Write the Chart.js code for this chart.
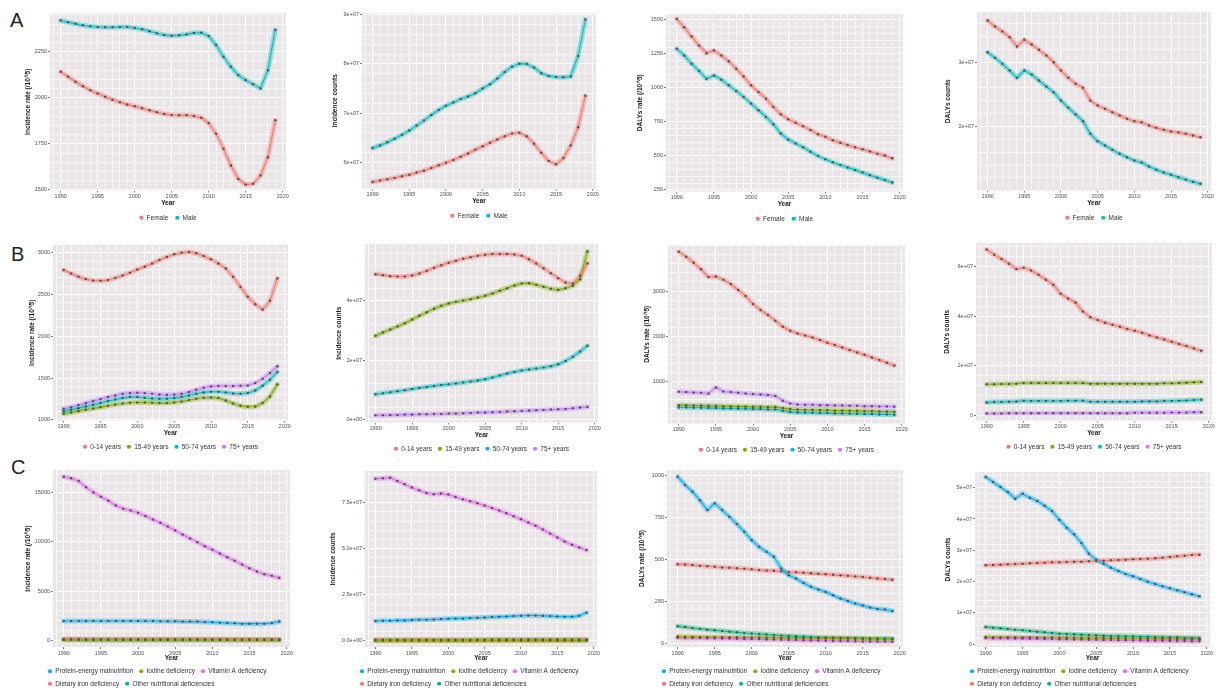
<!DOCTYPE html>
<html lang="en">
<head>
<meta charset="UTF-8">
<title>Nutritional deficiencies, 1990-2019</title>
<script src="https://cdn.jsdelivr.net/npm/chart.js@4"></script>
<style>
  html, body { margin: 0; padding: 0; background: #fff; overflow: hidden; }
  #fig { position: relative; width: 1218px; height: 695px; }
  #fig canvas { position: absolute; }
  .tag { position: absolute; font: 20px "Liberation Sans", Arial, sans-serif; line-height: 1; color: #222; }
</style>
</head>
<body>
<div id="fig">
  <div class="tag" style="left:10px;top:10px">A</div>
  <div class="tag" style="left:11px;top:244px">B</div>
  <div class="tag" style="left:11px;top:457px">C</div>
</div>
<script>
// ---- categories ----
const years = [1990,1991,1992,1993,1994,1995,1996,1997,1998,1999,2000,2001,2002,2003,2004,2005,2006,2007,2008,2009,2010,2011,2012,2013,2014,2015,2016,2017,2018,2019];
const xTickLabels = ['1990','1995','2000','2005','2010','2015','2020'];
const sexNames = ['Female', 'Male'];
const ageNames = ['0-14 years', '15-49 years', '50-74 years', '75+ years'];
const causeNames = ['Protein-energy malnutrition', 'Iodine deficiency', 'Vitamin A deficiency', 'Dietary iron deficiency', 'Other nutritional deficiencies'];

// ---- row A: by sex ----
const a1Female = [2141,2114,2087,2063,2041,2023,2005,1990,1976,1963,1954,1943,1932,1921,1912,1907,1905,1905,1901,1892,1863,1805,1724,1633,1560,1529,1533,1578,1678,1878];
const a1Male = [2419,2410,2401,2393,2388,2384,2383,2383,2384,2384,2379,2372,2361,2350,2341,2337,2339,2344,2352,2353,2335,2286,2223,2168,2123,2096,2074,2050,2150,2368];
const a2Female = [55.95e6,56.22e6,56.49e6,56.76e6,57.09e6,57.43e6,57.84e6,58.24e6,58.78e6,59.32e6,59.86e6,60.41e6,61.08e6,61.76e6,62.5e6,63.24e6,63.92e6,64.59e6,65.27e6,65.81e6,65.95e6,65.27e6,63.72e6,61.89e6,60.2e6,59.53e6,60.81e6,63.38e6,67.09e6,73.51e6];
const a2Male = [62.84e6,63.38e6,64.05e6,64.73e6,65.54e6,66.42e6,67.43e6,68.45e6,69.59e6,70.61e6,71.49e6,72.16e6,72.84e6,73.38e6,74.05e6,75.0e6,75.88e6,77.03e6,78.38e6,79.46e6,80.07e6,80.0e6,79.26e6,78.11e6,77.57e6,77.36e6,77.3e6,77.43e6,81.62e6,89.05e6];
const a3Female = [1507,1446,1378,1312,1256,1275,1239,1197,1141,1085,1019,970,921,860,807,770,743,719,690,660,641,616,597,580,563,548,533,516,502,482];
const a3Male = [1288,1239,1178,1124,1068,1092,1061,1019,978,934,885,836,787,733,665,621,592,563,531,500,475,453,433,414,397,377,358,340,323,304];
const a4Female = [36.48e6,35.54e6,34.77e6,33.89e6,32.44e6,33.47e6,32.75e6,31.92e6,31.04e6,30.0e6,28.7e6,27.56e6,26.63e6,26.01e6,24.04e6,23.26e6,22.75e6,22.23e6,21.71e6,21.19e6,20.83e6,20.67e6,20.16e6,19.79e6,19.48e6,19.22e6,19.07e6,18.86e6,18.6e6,18.34e6];
const a4Male = [31.55e6,30.67e6,29.74e6,28.7e6,27.56e6,28.7e6,28.08e6,27.15e6,26.22e6,25.34e6,24.04e6,22.9e6,21.87e6,20.83e6,18.86e6,17.72e6,17.05e6,16.37e6,15.75e6,15.23e6,14.72e6,14.4e6,13.78e6,13.26e6,12.85e6,12.49e6,12.12e6,11.76e6,11.4e6,11.09e6];

// ---- row B: by age ----
const b1Age0 = [2792,2752,2712,2684,2668,2664,2672,2696,2728,2760,2800,2832,2872,2912,2948,2980,3000,3008,2992,2960,2920,2872,2812,2712,2592,2472,2384,2320,2424,2692];
const b1Age15 = [1072,1088,1104,1120,1136,1152,1168,1184,1196,1204,1208,1208,1204,1200,1200,1208,1220,1236,1252,1264,1268,1260,1232,1196,1168,1156,1160,1200,1280,1424];
const b1Age50 = [1104,1120,1140,1160,1180,1200,1224,1244,1260,1272,1272,1264,1256,1252,1252,1260,1272,1292,1312,1328,1336,1336,1328,1316,1312,1320,1352,1408,1480,1572];
const b1Age75 = [1132,1152,1176,1200,1224,1248,1272,1292,1312,1320,1324,1320,1312,1304,1300,1304,1312,1332,1360,1384,1400,1404,1404,1404,1408,1412,1440,1492,1560,1640];
const b2Age0 = [49.02e6,48.68e6,48.34e6,48.23e6,48.23e6,48.57e6,49.24e6,50.14e6,51.16e6,52.06e6,52.85e6,53.52e6,54.2e6,54.76e6,55.21e6,55.55e6,55.78e6,55.78e6,55.78e6,55.66e6,55.21e6,54.09e6,52.62e6,51.04e6,49.35e6,47.66e6,46.2e6,45.86e6,48.45e6,52.62e6];
const b2Age15 = [28.17e6,29.3e6,30.31e6,31.32e6,32.45e6,33.69e6,34.93e6,36.17e6,37.3e6,38.31e6,39.1e6,39.66e6,40.11e6,40.56e6,41.13e6,41.69e6,42.48e6,43.38e6,44.28e6,45.18e6,45.86e6,45.97e6,45.41e6,44.73e6,44.06e6,43.72e6,44.28e6,45.07e6,47.33e6,56.68e6];
const b2Age50 = [8.45e6,8.78e6,9.12e6,9.46e6,9.8e6,10.25e6,10.59e6,10.93e6,11.26e6,11.6e6,11.83e6,12.05e6,12.39e6,12.73e6,13.06e6,13.51e6,14.08e6,14.75e6,15.43e6,15.99e6,16.44e6,16.78e6,17.12e6,17.46e6,17.91e6,18.58e6,19.71e6,21.07e6,22.87e6,24.79e6];
const b2Age75 = [1.34e6,1.34e6,1.46e6,1.46e6,1.57e6,1.57e6,1.68e6,1.68e6,1.79e6,1.79e6,1.91e6,1.91e6,2.02e6,2.13e6,2.25e6,2.25e6,2.36e6,2.47e6,2.58e6,2.7e6,2.81e6,2.92e6,3.03e6,3.15e6,3.26e6,3.37e6,3.49e6,3.71e6,3.94e6,4.16e6];
const b3Age0 = [3868,3757,3625,3478,3310,3320,3250,3154,3022,2890,2713,2581,2471,2346,2213,2125,2066,2022,1978,1919,1860,1809,1757,1699,1647,1596,1537,1478,1419,1360];
const b3Age15 = [485,485,478,478,471,471,463,463,456,456,449,449,441,441,419,397,390,382,382,375,375,368,368,360,360,353,353,346,346,338];
const b3Age50 = [434,434,426,426,419,419,412,412,404,404,397,397,390,390,360,331,324,316,316,309,309,301,301,294,294,287,287,279,279,272];
const b3Age75 = [779,772,765,757,743,875,787,772,757,743,728,721,706,684,581,522,500,493,493,485,485,478,478,471,471,463,463,456,456,448];
const b4Age0 = [66.75e6,64.72e6,62.97e6,61.08e6,58.92e6,59.46e6,58.38e6,56.63e6,54.6e6,52.58e6,48.94e6,47.05e6,45.43e6,41.79e6,39.5e6,38.42e6,37.34e6,36.53e6,35.72e6,34.77e6,34.1e6,33.29e6,32.21e6,31.4e6,30.59e6,29.65e6,28.7e6,27.89e6,26.95e6,26.0e6];
const b4Age15 = [12.52e6,12.52e6,12.65e6,12.65e6,12.79e6,13.05e6,13.05e6,13.05e6,13.05e6,13.05e6,13.05e6,13.05e6,13.05e6,13.05e6,12.79e6,12.79e6,12.79e6,12.79e6,12.79e6,12.79e6,12.79e6,12.79e6,12.79e6,12.79e6,12.92e6,12.92e6,13.05e6,13.19e6,13.32e6,13.46e6];
const b4Age50 = [5.23e6,5.37e6,5.37e6,5.5e6,5.64e6,5.91e6,5.77e6,5.77e6,5.77e6,5.77e6,5.77e6,5.91e6,5.91e6,5.91e6,5.5e6,5.5e6,5.5e6,5.5e6,5.5e6,5.5e6,5.5e6,5.64e6,5.64e6,5.64e6,5.77e6,5.77e6,5.91e6,6.04e6,6.17e6,6.31e6];
const b4Age75 = [0.78e6,0.78e6,0.78e6,0.91e6,0.91e6,0.91e6,0.91e6,0.91e6,0.91e6,0.91e6,0.91e6,0.91e6,0.91e6,0.91e6,0.91e6,0.91e6,0.91e6,0.91e6,0.91e6,0.91e6,1.05e6,1.05e6,1.05e6,1.05e6,1.05e6,1.18e6,1.18e6,1.18e6,1.32e6,1.32e6];

// ---- row C: by cause ----
const c1PEM = [1967,1967,1967,1967,1967,1967,1967,1967,1967,1967,1967,1967,1967,1933,1933,1933,1899,1899,1899,1865,1831,1797,1763,1729,1695,1695,1695,1695,1763,1899];
const c1Iodine = [46,45,45,44,43,42,42,41,40,40,39,38,38,37,37,36,36,35,35,34,34,33,33,33,32,32,32,31,31,31];
const c1VitA = [16629,16459,16188,15543,15034,14593,14185,13710,13371,13201,12964,12624,12285,11945,11572,11165,10758,10350,9977,9570,9196,8823,8450,8077,7703,7330,6990,6719,6549,6345];
const c1Iron = [118,116,115,113,112,110,109,108,106,105,104,103,102,101,100,99,98,97,97,96,95,95,94,94,93,93,92,92,92,91];
const c1Other = [72,71,70,69,68,67,66,66,65,64,63,62,61,61,60,59,58,58,57,56,56,55,55,54,54,53,53,52,52,52];
const c2PEM = [10.78e6,10.96e6,10.96e6,11.14e6,11.14e6,11.32e6,11.5e6,11.5e6,11.68e6,11.86e6,12.04e6,12.22e6,12.22e6,12.4e6,12.58e6,12.76e6,12.94e6,13.12e6,13.3e6,13.48e6,13.66e6,13.83e6,13.83e6,13.66e6,13.48e6,13.3e6,13.12e6,13.12e6,13.66e6,15.27e6];
const c2Iodine = [0.26e6,0.26e6,0.26e6,0.25e6,0.25e6,0.25e6,0.25e6,0.24e6,0.24e6,0.24e6,0.24e6,0.23e6,0.23e6,0.23e6,0.23e6,0.23e6,0.22e6,0.22e6,0.22e6,0.22e6,0.22e6,0.21e6,0.21e6,0.21e6,0.21e6,0.21e6,0.21e6,0.2e6,0.2e6,0.2e6];
const c2VitA = [87.95e6,88.13e6,88.49e6,86.69e6,84.89e6,83.1e6,81.66e6,80.22e6,79.5e6,79.86e6,79.32e6,78.06e6,76.8e6,75.72e6,74.64e6,73.38e6,72.12e6,70.68e6,69.24e6,67.62e6,66.0e6,64.2e6,62.41e6,60.43e6,58.27e6,56.11e6,53.95e6,52.15e6,50.71e6,49.27e6];
const c2Iron = [0.61e6,0.62e6,0.62e6,0.63e6,0.64e6,0.65e6,0.65e6,0.66e6,0.67e6,0.68e6,0.69e6,0.69e6,0.7e6,0.71e6,0.72e6,0.73e6,0.74e6,0.74e6,0.75e6,0.76e6,0.77e6,0.78e6,0.78e6,0.79e6,0.8e6,0.81e6,0.82e6,0.82e6,0.83e6,0.84e6];
const c2Other = [0.42e6,0.42e6,0.43e6,0.43e6,0.43e6,0.44e6,0.44e6,0.44e6,0.45e6,0.45e6,0.45e6,0.46e6,0.46e6,0.46e6,0.47e6,0.47e6,0.47e6,0.48e6,0.48e6,0.48e6,0.49e6,0.49e6,0.49e6,0.5e6,0.5e6,0.5e6,0.51e6,0.51e6,0.51e6,0.52e6];
const c3PEM = [990,941,901,851,792,832,792,752,709,663,614,574,545,515,446,406,386,360,337,321,307,287,267,253,238,226,214,206,202,194];
const c3Iodine = [42,41,41,40,40,39,39,38,38,37,36,36,35,35,34,34,33,33,32,32,31,31,30,30,29,29,28,28,27,27];
const c3VitA = [35,34,34,33,32,32,31,30,29,28,27,26,25,24,23,22,21,20,19,18,17,16,15,15,14,13,13,12,12,11];
const c3Iron = [471,469,466,462,459,456,452,450,447,444,441,437,434,432,429,425,423,420,417,414,411,408,405,402,398,395,391,387,383,379];
const c3Other = [103,98,93,88,83,79,75,71,67,63,60,57,54,51,48,46,44,42,40,38,37,36,35,34,33,32,31,30,30,29];
const c4PEM = [53.4e6,51.81e6,50.21e6,48.62e6,46.49e6,48.09e6,46.81e6,45.74e6,44.25e6,42.55e6,39.79e6,37.23e6,35.1e6,32.34e6,28.93e6,27.02e6,25.74e6,24.46e6,23.4e6,22.44e6,21.7e6,20.85e6,20.0e6,19.25e6,18.51e6,17.87e6,17.23e6,16.59e6,15.96e6,15.32e6];
const c4Iodine = [2.3e6,2.28e6,2.26e6,2.25e6,2.23e6,2.21e6,2.2e6,2.18e6,2.16e6,2.14e6,2.12e6,2.1e6,2.08e6,2.05e6,2.02e6,1.99e6,1.96e6,1.93e6,1.9e6,1.87e6,1.84e6,1.81e6,1.78e6,1.75e6,1.72e6,1.7e6,1.67e6,1.64e6,1.62e6,1.6e6];
const c4VitA = [2.0e6,1.97e6,1.94e6,1.91e6,1.88e6,1.84e6,1.8e6,1.76e6,1.72e6,1.68e6,1.64e6,1.6e6,1.56e6,1.52e6,1.48e6,1.44e6,1.4e6,1.36e6,1.32e6,1.28e6,1.24e6,1.2e6,1.17e6,1.14e6,1.11e6,1.08e6,1.05e6,1.03e6,1.01e6,1.0e6];
const c4Iron = [25.21e6,25.32e6,25.42e6,25.53e6,25.64e6,25.74e6,25.85e6,25.95e6,26.06e6,26.17e6,26.17e6,26.27e6,26.38e6,26.38e6,26.49e6,26.59e6,26.7e6,26.8e6,26.91e6,27.02e6,27.12e6,27.23e6,27.34e6,27.44e6,27.66e6,27.87e6,28.08e6,28.29e6,28.51e6,28.61e6];
const c4Other = [5.52e6,5.31e6,5.1e6,4.89e6,4.67e6,4.46e6,4.25e6,4.04e6,3.82e6,3.61e6,3.4e6,3.29e6,3.19e6,3.08e6,2.97e6,2.87e6,2.76e6,2.65e6,2.65e6,2.55e6,2.55e6,2.44e6,2.44e6,2.33e6,2.33e6,2.23e6,2.23e6,2.12e6,2.12e6,2.01e6];

// ---- y tick values and labels ----
const a1Ticks = [1500, 1750, 2000, 2250];        const a1TickLabels = ['1500', '1750', '2000', '2250'];
const a2Ticks = [6e7, 7e7, 8e7, 9e7];            const a2TickLabels = ['6e+07', '7e+07', '8e+07', '9e+07'];
const a3Ticks = [250, 500, 750, 1000, 1250, 1500]; const a3TickLabels = ['250', '500', '750', '1000', '1250', '1500'];
const a4Ticks = [2e7, 3e7];                      const a4TickLabels = ['2e+07', '3e+07'];
const b1Ticks = [1000, 1500, 2000, 2500, 3000];  const b1TickLabels = ['1000', '1500', '2000', '2500', '3000'];
const b2Ticks = [0, 2e7, 4e7];                   const b2TickLabels = ['0e+00', '2e+07', '4e+07'];
const b3Ticks = [1000, 2000, 3000];              const b3TickLabels = ['1000', '2000', '3000'];
const b4Ticks = [0, 2e7, 4e7, 6e7];              const b4TickLabels = ['0', '2e+07', '4e+07', '6e+07'];
const c1Ticks = [0, 5000, 10000, 15000];         const c1TickLabels = ['0', '5000', '10000', '15000'];
const c2Ticks = [0, 2.5e7, 5e7, 7.5e7];          const c2TickLabels = ['0.0e+00', '2.5e+07', '5.0e+07', '7.5e+07'];
const c3Ticks = [0, 250, 500, 750, 1000];        const c3TickLabels = ['0', '250', '500', '750', '1000'];
const c4Ticks = [0, 1e7, 2e7, 3e7, 4e7, 5e7];    const c4TickLabels = ['0', '1e+07', '2e+07', '3e+07', '4e+07', '5e+07'];

// ---- styles ----
const sexColors = ['#F8766D', '#00BFC4'];
const ageColors = ['#F8766D', '#7CAE00', '#00BFC4', '#C77CFF'];
const causeColors = ['#00B0F6', '#A3A500', '#E76BF3', '#F8766D', '#00BF7D'];
const RATE = 'Incidence rate (/10^5)', COUNT = 'Incidence counts', DRATE = 'DALYs rate (/10^5)', DCOUNT = 'DALYs counts';
const X_MIN = 1988.55, X_MAX = 2020.45;

// plot box in page pixels: [left, right, top, bottom]; w = y-axis strip width
const panels = [
  { row: 'A', box: [50, 286, 13, 190], w: 26, title: RATE,   range: [1497, 2460],     ticks: a1Ticks, labels: a1TickLabels, names: sexNames, colors: sexColors, series: [a1Female, a1Male] },
  { row: 'A', box: [362, 596, 13, 188], w: 31, title: COUNT, range: [54.6e6, 90.4e6], ticks: a2Ticks, labels: a2TickLabels, names: sexNames, colors: sexColors, series: [a2Female, a2Male] },
  { row: 'A', box: [666, 903, 14, 191], w: 30, title: DRATE, range: [238, 1544],      ticks: a3Ticks, labels: a3TickLabels, names: sexNames, colors: sexColors, series: [a3Female, a3Male] },
  { row: 'A', box: [977, 1211, 12, 190], w: 33, title: DCOUNT, range: [10.05e6, 37.8e6], ticks: a4Ticks, labels: a4TickLabels, names: sexNames, colors: sexColors, series: [a4Female, a4Male] },
  { row: 'B', box: [53, 288, 245, 420], w: 25, title: RATE,   range: [992, 3092],      ticks: b1Ticks, labels: b1TickLabels, names: ageNames, colors: ageColors, series: [b1Age0, b1Age15, b1Age50, b1Age75] },
  { row: 'B', box: [365, 598, 244, 422], w: 30, title: COUNT, range: [-1.1e6, 59.2e6], ticks: b2Ticks, labels: b2TickLabels, names: ageNames, colors: ageColors, series: [b2Age0, b2Age15, b2Age50, b2Age75] },
  { row: 'B', box: [668, 905, 245, 423], w: 25, title: DRATE, range: [80, 4015],       ticks: b3Ticks, labels: b3TickLabels, names: ageNames, colors: ageColors, series: [b3Age0, b3Age15, b3Age50, b3Age75] },
  { row: 'B', box: [976, 1212, 243, 420], w: 33, title: DCOUNT, range: [-2.05e6, 69.4e6], ticks: b4Ticks, labels: b4TickLabels, names: ageNames, colors: ageColors, series: [b4Age0, b4Age15, b4Age50, b4Age75] },
  { row: 'C', box: [53, 290, 470, 647], w: 29, title: RATE,   range: [-680, 17308],    ticks: c1Ticks, labels: c1TickLabels, names: causeNames, colors: causeColors, series: [c1PEM, c1Iodine, c1VitA, c1Iron, c1Other] },
  { row: 'C', box: [365, 597, 471, 647], w: 36, title: COUNT, range: [-3.26e6, 92.1e6], ticks: c2Ticks, labels: c2TickLabels, names: causeNames, colors: causeColors, series: [c2PEM, c2Iodine, c2VitA, c2Iron, c2Other] },
  { row: 'C', box: [667, 903, 470, 647], w: 29, title: DRATE, range: [-20, 1030],      ticks: c3Ticks, labels: c3TickLabels, names: causeNames, colors: causeColors, series: [c3PEM, c3Iodine, c3VitA, c3Iron, c3Other] },
  { row: 'C', box: [975, 1210, 472, 647], w: 31, title: DCOUNT, range: [-0.86e6, 55e6], ticks: c4Ticks, labels: c4TickLabels, names: causeNames, colors: causeColors, series: [c4PEM, c4Iodine, c4VitA, c4Iron, c4Other] }
];

const rowLayout = { A: { hx: 17, lp: 7, rows: 1 }, B: { hx: 17, lp: 6, rows: 1 }, C: { hx: 15, lp: 6, rows: 2 } };
const PAD_TOP = 5, PAD_RIGHT = 6, LEGEND_FONT = 6.5;

Chart.defaults.font.family = '"Liberation Sans", Arial, sans-serif';

function rgba(hex, a) {
  const n = parseInt(hex.slice(1), 16);
  return `rgba(${n >> 16},${(n >> 8) & 255},${n & 255},${a})`;
}

// labelled ticks plus four minor lines between each pair
function yGrid(major, lo, hi) {
  const step = (major[1] - major[0]) / 5;
  const tol = step * 1e-6;
  const k0 = Math.ceil((lo - major[0]) / step - 1e-9);
  const k1 = Math.floor((hi - major[0]) / step + 1e-9);
  const out = [];
  for (let k = k0; k <= k1; k++) {
    const v = major[0] + k * step;
    out.push({ value: v, major: major.some(t => Math.abs(t - v) < tol) });
  }
  return out;
}
function xGrid() {
  const out = [];
  for (let y = Math.ceil(X_MIN); y <= X_MAX; y++) out.push({ value: y, major: xTickLabels.includes(String(y)) });
  return out;
}

const panelBg = {
  id: 'panelBg',
  beforeDraw(c) {
    const a = c.chartArea, ctx = c.ctx;
    ctx.save();
    ctx.fillStyle = '#EAE5E7';
    ctx.fillRect(a.left, a.top, a.right - a.left, a.bottom - a.top);
    ctx.restore();
  }
};

const gridLine = c => (c.tick && c.tick.major ? 1 : 0.6);
const tickMark = c => (c.tick && c.tick.major ? '#555' : 'rgba(0,0,0,0)');

const fig = document.getElementById('fig');

panels.forEach(p => {
  const [left, right, top, bottom] = p.box;
  const lay = rowLayout[p.row];
  const legendH = lay.rows * (LEGEND_FONT + lay.lp) + 10;
  const cv = document.createElement('canvas');
  cv.width = Math.round(p.w + (right - left) + PAD_RIGHT);
  cv.height = Math.round(PAD_TOP + (bottom - top) + lay.hx + legendH);
  cv.style.left = (left - p.w) + 'px';
  cv.style.top = (top - PAD_TOP) + 'px';
  fig.appendChild(cv);

  const datasets = [];
  p.series.forEach((vals, i) => {
    const pts = years.map((yr, j) => ({ x: yr, y: vals[j] }));
    datasets.push({ data: pts, halo: true, borderColor: rgba(p.colors[i], 0.38), borderWidth: 5,
      pointRadius: 0, order: 2, borderCapStyle: 'round', borderJoinStyle: 'round' });
    datasets.push({ label: p.names[i], data: pts, borderColor: p.colors[i], borderWidth: 1.1,
      pointRadius: 1.25, pointBackgroundColor: '#555', pointBorderWidth: 0, order: 1 });
  });

  const yTicks = yGrid(p.ticks, p.range[0], p.range[1]);
  const yLabel = v => {
    const tol = (p.range[1] - p.range[0]) * 1e-6;
    const i = p.ticks.findIndex(t => Math.abs(t - v) < tol);
    return i >= 0 ? p.labels[i] : '';
  };

  const legendPlace = {
    id: 'legendPlace',
    afterLayout(c) {
      const lg = c.legend, a = c.chartArea;
      if (p.row === 'C') { lg.left = a.left - 11; lg.right = a.right + 20; }
      else { lg.left = a.left; lg.right = a.right; }
    }
  };

  new Chart(cv, {
    type: 'line',
    data: { datasets },
    options: {
      responsive: false,
      animation: false,
      devicePixelRatio: 1,
      layout: { padding: { top: PAD_TOP, right: PAD_RIGHT, left: 0, bottom: 0 } },
      plugins: {
        tooltip: { enabled: false },
        legend: {
          position: 'bottom',
          align: p.row === 'C' ? 'start' : 'center',
          labels: {
            usePointStyle: true,
            boxWidth: 4,
            boxHeight: 3,
            padding: lay.lp,
            color: '#333',
            font: { size: LEGEND_FONT },
            generateLabels: c => Chart.defaults.plugins.legend.labels.generateLabels(c)
              .filter(it => !c.data.datasets[it.datasetIndex].halo)
              .map(it => {
                const col = c.data.datasets[it.datasetIndex].borderColor;
                return Object.assign(it, { fillStyle: col, strokeStyle: col, lineWidth: 0, pointStyle: 'circle' });
              })
          }
        }
      },
      scales: {
        x: {
          type: 'linear',
          min: X_MIN,
          max: X_MAX,
          afterBuildTicks: s => { s.ticks = xGrid(); },
          afterFit: s => { s.height = lay.hx; },
          ticks: {
            autoSkip: false, maxRotation: 0, padding: 1,
            font: { size: 5.5 }, color: '#4d4d4d',
            callback: v => (xTickLabels.includes(String(v)) ? String(v) : '')
          },
          grid: { color: '#ffffff', lineWidth: gridLine, tickLength: 2, tickColor: tickMark, tickWidth: 0.8 },
          border: { display: false },
          title: { display: true, text: 'Year', color: '#1a1a1a', font: { size: 6.5, weight: 'bold' }, padding: 0 }
        },
        y: {
          type: 'linear',
          min: p.range[0],
          max: p.range[1],
          afterBuildTicks: s => { s.ticks = yTicks.map(t => ({ value: t.value, major: t.major })); },
          afterFit: s => { s.width = p.w; },
          ticks: { autoSkip: false, padding: 1, font: { size: 5.5 }, color: '#4d4d4d', callback: yLabel },
          grid: { color: '#ffffff', lineWidth: gridLine, tickLength: 2, tickColor: tickMark, tickWidth: 0.8 },
          border: { display: false },
          title: { display: true, text: p.title, color: '#1a1a1a', font: { size: 6.5, weight: 'bold' }, padding: 0 }
        }
      }
    },
    plugins: [panelBg, legendPlace]
  });
});
</script>
</body>
</html>
